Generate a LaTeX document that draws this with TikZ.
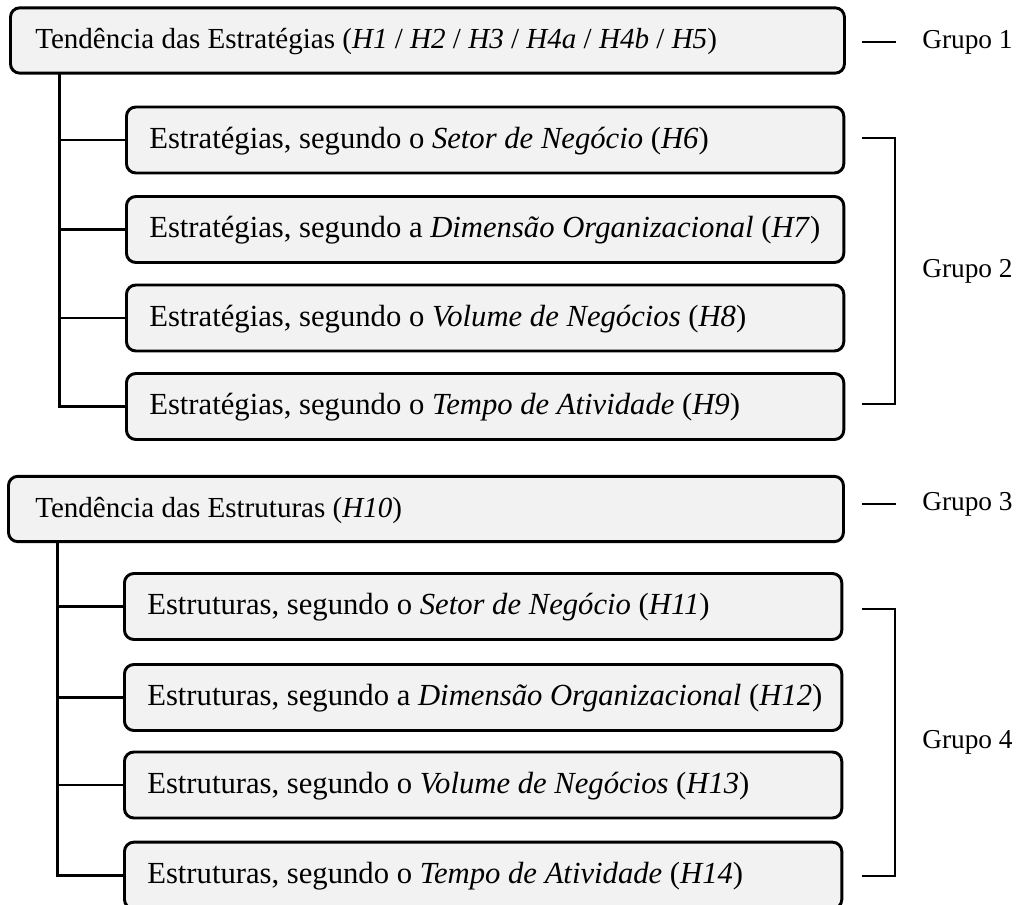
\documentclass[tikz,border=0pt]{standalone}
\usepackage{fontspec}
\setmainfont{Liberation Serif}
\definecolor{boxfill}{HTML}{F2F2F2}
\begin{document}
\begin{tikzpicture}[x=0.75pt,y=-0.75pt,
  every node/.style={font=\fontsize{20.5}{24}\selectfont},
  mainbox/.style={draw=black,line width=2.2pt,rounded corners=7pt,fill=boxfill,minimum height=49pt,anchor=west,inner sep=0pt},
  subbox/.style={mainbox,minimum width=538pt,minimum height=49.5pt},
  lbl/.style={anchor=west,inner sep=0pt,font=\fontsize{21.8}{25}\selectfont},
  sublbl/.style={anchor=west,inner sep=0pt,font=\fontsize{23}{26}\selectfont},
  conn/.style={line width=2.2pt,line cap=rect},
  grp/.style={anchor=west,inner sep=0pt}]
\useasboundingbox (0,0) rectangle (1022,905);
% group 1 and 2
\node[mainbox,minimum width=625.5pt] (m1) at (9,40.5) {};
\node[lbl] at (35,41.5) {Tendência das Estratégias (\textit{H1} / \textit{H2} / \textit{H3} / \textit{H4a} / \textit{H4b} / \textit{H5})};
\node[subbox] (s1) at (125,140) {};
\node[subbox] (s2) at (125,229.5) {};
\node[subbox] (s3) at (125,318) {};
\node[subbox] (s4) at (125,406.5) {};
\node[sublbl] at (149,141) {Estratégias, segundo o \textit{Setor de Negócio} (\textit{H6})};
\node[sublbl] at (149,230.5) {Estratégias, segundo a \textit{Dimensão Organizacional} (\textit{H7})};
\node[sublbl] at (149,319) {Estratégias, segundo o \textit{Volume de Negócios} (\textit{H8})};
\node[sublbl] at (149,407.5) {Estratégias, segundo o \textit{Tempo de Atividade} (\textit{H9})};
\coordinate (t1) at (59.5,73);
\draw[conn] (t1) |- (s4.west);
\foreach \s in {s1,s2,s3} \draw[conn] (t1 |- \s.west) -- (\s.west);
% group 3 and 4
\node[mainbox,minimum width=626.25pt] (m2) at (7,509) {};
\node[lbl] at (35,510) {Tendência das Estruturas (\textit{H10})};
\node[subbox] (u1) at (123,606.5) {};
\node[subbox] (u2) at (123,697.5) {};
\node[subbox] (u3) at (123,785) {};
\node[subbox,minimum height=50pt] (u4) at (123,875.5) {};
\node[sublbl] at (147,607.5) {Estruturas, segundo o \textit{Setor de Negócio} (\textit{H11})};
\node[sublbl] at (147,698.5) {Estruturas, segundo a \textit{Dimensão Organizacional} (\textit{H12})};
\node[sublbl] at (147,786) {Estruturas, segundo o \textit{Volume de Negócios} (\textit{H13})};
\node[sublbl] at (147,876.5) {Estruturas, segundo o \textit{Tempo de Atividade} (\textit{H14})};
\coordinate (t2) at (57.5,542);
\draw[conn] (t2) |- (u4.west);
\foreach \s in {u1,u2,u3} \draw[conn] (t2 |- \s.west) -- (\s.west);
% group labels
\coordinate (d1a) at (862,42); \coordinate (d1b) at (896,42);
\draw[conn,line cap=butt] (d1a) -- (d1b);
\node[grp] (g1) at (922,42) {Grupo 1};
\coordinate (b2a) at (862,138); \coordinate (b2b) at (895,404);
\draw[conn,line cap=butt] (b2a) -| (b2b) -- (b2b -| b2a);
\node[grp] (g2) at (922,271) {Grupo 2};
\coordinate (d3a) at (862,504); \coordinate (d3b) at (896,504);
\draw[conn,line cap=butt] (d3a) -- (d3b);
\node[grp] (g3) at (922,504) {Grupo 3};
\coordinate (b4a) at (862,609); \coordinate (b4b) at (895,876);
\draw[conn,line cap=butt] (b4a) -| (b4b) -- (b4b -| b4a);
\node[grp] (g4) at (922,742.5) {Grupo 4};
\end{tikzpicture}
\end{document}
